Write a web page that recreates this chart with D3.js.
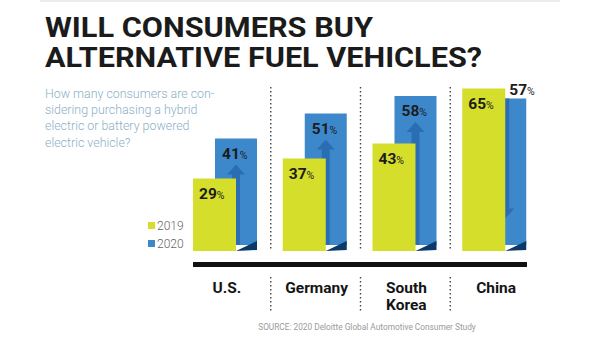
<!DOCTYPE html>
<html>
<head>
<meta charset="utf-8">
<script src="https://cdn.jsdelivr.net/npm/d3@7"></script>
<style>
  body { margin: 0; background: #fff; }
  svg { display: block; font-family: Roboto, "Liberation Sans", sans-serif; }
</style>
</head>
<body>
<div id="chart"></div>
<script>
// data
const countries = ["U.S.", "Germany", "South Korea", "China"];
const values2019 = [29, 37, 43, 65];
const values2020 = [41, 51, 58, 57];
const years = ["2019", "2020"];
const titleLines = ["WILL CONSUMERS BUY", "ALTERNATIVE FUEL VEHICLES?"];
const subtitleLines = ["How many consumers are con-", "sidering purchasing a hybrid", "electric or battery powered", "electric vehicle?"];
const source = "SOURCE: 2020 Deloitte Global Automotive Consumer Study";

const width = 600, height = 337;
const yellow = "#d5de2a", blue = "#3c88cb", arrowBlue = "#2a6db2", navy = "#0c3a68";
const colorScale = d3.scaleOrdinal().domain(years).range([yellow, blue]);

const svg = d3.select("#chart").append("svg")
    .attr("width", width).attr("height", height);

// faint rule at the very top
svg.append("line").attr("x1", 40).attr("x2", 560).attr("y1", 1).attr("y2", 1)
    .attr("stroke", "#ececec").attr("stroke-width", 2);

// title
svg.selectAll("text.title")
    .data(titleLines)
    .join("text")
    .attr("class", "title")
    .attr("x", 45)
    .attr("y", (d, i) => 37 + i * 30)
    .attr("font-size", 28)
    .attr("font-weight", 700)
    .attr("fill", "#1b1b1b")
    .attr("textLength", (d, i) => i === 0 ? 328 : 437)
    .attr("lengthAdjust", "spacingAndGlyphs")
    .text(d => d);

// subtitle
svg.selectAll("text.sub")
    .data(subtitleLines)
    .join("text")
    .attr("class", "sub")
    .attr("x", 45)
    .attr("y", (d, i) => 98 + i * 16.2)
    .attr("font-size", 12.4)
    .attr("font-weight", 300)
    .attr("fill", "#8bb0c6")
    .text(d => d);

// scales
const x = d3.scaleBand().domain(countries).range([183, 542]);
const y = d3.scaleLinear().domain([0, 100]).range([251, 1]);
const depth = 10;           // back plane of the 2020 bars sits this much higher
const yW = 43, bW = 42, bOff = 22;
const blueBottom = 245;

// dotted separators
const seps = countries.slice(1);
[[87, 250], [277, 313]].forEach(([y1, y2]) => {
  svg.selectAll(null)
    .data(seps)
    .join("line")
    .attr("x1", d => x(d) - 2).attr("x2", d => x(d) - 2)
    .attr("y1", y1).attr("y2", y2)
    .attr("stroke", "#444")
    .attr("stroke-width", 1.4)
    .attr("stroke-dasharray", "1.4,2.6");
});

const rows = countries.map((c, i) => ({ c, v19: values2019[i], v20: values2020[i] }));

const g = svg.selectAll("g.country")
    .data(rows)
    .join("g")
    .attr("class", "country");

// 2020 bars (behind)
g.append("rect")
    .attr("x", d => x(d.c) + 10 + bOff)
    .attr("y", d => y(d.v20) - depth)
    .attr("width", bW)
    .attr("height", d => blueBottom - (y(d.v20) - depth))
    .attr("fill", colorScale("2020"));

// arrow inside the 2020 bar, up for a rise, down for a drop
g.append("path")
    .attr("fill", arrowBlue)
    .attr("d", d => {
      const cx = x(d.c) + 10 + bOff + 21;
      const top = y(d.v20) - depth;
      if (d.v20 >= d.v19) {
        const ht = top + 26;
        return `M${cx},${ht} L${cx + 9},${ht + 10} L${cx + 4},${ht + 10} L${cx + 4},${blueBottom} L${cx - 4},${blueBottom} L${cx - 4},${ht + 10} L${cx - 9},${ht + 10} Z`;
      }
      const tip = y(d.v20) + 120 - depth;
      return `M${cx - 4},${top} L${cx + 4},${top} L${cx + 4},${tip - 10} L${cx + 9},${tip - 10} L${cx},${tip} L${cx - 9},${tip - 10} L${cx - 4},${tip - 10} Z`;
    });

// dark floor wedge
g.append("path")
    .attr("fill", navy)
    .attr("d", d => {
      const yr = x(d.c) + 10 + yW, br = x(d.c) + 10 + bOff + bW;
      return `M${yr},${y(0)} L${br},${y(0) - 10} L${br},${y(0) - 1} Z`;
    });

// 2019 bars (front)
g.append("rect")
    .attr("x", d => x(d.c) + 10)
    .attr("y", d => y(d.v19))
    .attr("width", yW)
    .attr("height", d => y(0) - y(d.v19))
    .attr("fill", colorScale("2019"));

// value labels
const addLabel = (sel, v, xf, yf) => {
  const t = sel.append("text")
      .attr("x", xf).attr("y", yf)
      .attr("fill", "#1c1c1c");
  t.append("tspan").attr("font-size", 15.5).attr("font-weight", 700).text(v);
  t.append("tspan").attr("font-size", 10.5).attr("font-weight", 400).text("%");
};
g.each(function (d) {
  const s = d3.select(this);
  addLabel(s, d.v19, x(d.c) + 10 + 6, y(d.v19) + 20);
  const hidden = d.v19 > d.v20;
  if (hidden) addLabel(s, d.v20, x(d.c) + 10 + yW + 4, y(d.v20) - depth - 3.5);
  else addLabel(s, d.v20, x(d.c) + 10 + bOff + 7, y(d.v20) - depth + 20);
});

// black base bar
svg.append("rect")
    .attr("x", 193).attr("y", 262)
    .attr("width", 334).attr("height", 5)
    .attr("fill", "#111");

// country labels
svg.selectAll("text.country")
    .data(countries)
    .join("text")
    .attr("class", "country")
    .attr("text-anchor", "middle")
    .attr("font-size", 15.5)
    .attr("font-weight", 700)
    .attr("fill", "#151515")
    .each(function (d) {
      const words = d === "South Korea" ? ["South", "Korea"] : [d];
      d3.select(this).selectAll("tspan")
        .data(words)
        .join("tspan")
        .attr("x", x(d) + x.bandwidth() / 2 - 1)
        .attr("y", (w, i) => 293 + i * 16.5)
        .text(w => w);
    });

// legend
const legend = svg.selectAll("g.legend")
    .data(years)
    .join("g")
    .attr("class", "legend")
    .attr("transform", (d, i) => `translate(148,${222 + i * 18})`);
legend.append("rect")
    .attr("width", 7).attr("height", 7)
    .attr("fill", d => colorScale(d));
legend.append("text")
    .attr("x", 9).attr("y", 7.5)
    .attr("font-size", 12)
    .attr("font-weight", 300)
    .attr("fill", "#666")
    .text(d => d);

// source
svg.append("text")
    .attr("x", 367).attr("y", 330)
    .attr("text-anchor", "middle")
    .attr("font-size", 8.3)
    .attr("fill", "#9a9a9a")
    .text(source);
</script>
</body>
</html>
